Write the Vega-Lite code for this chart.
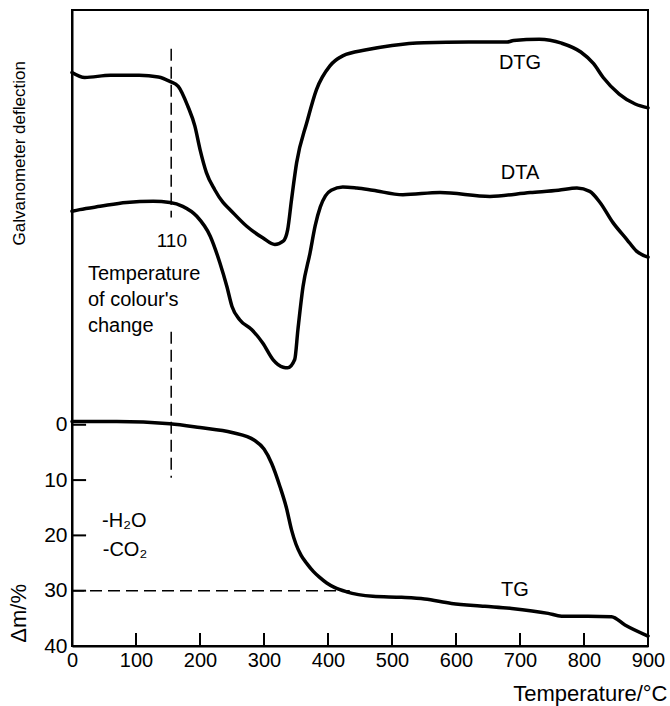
{
  "$schema": "https://vega.github.io/schema/vega-lite/v6.json",
  "width": 576,
  "height": 636,
  "autosize": {"type": "none"},
  "padding": {"left": 72, "top": 10, "right": 22, "bottom": 60},
  "background": "white",
  "config": {
    "view": {"stroke": "black", "strokeWidth": 2},
    "font": "Liberation Sans",
    "text": {"color": "black", "font": "Liberation Sans"}
  },
  "datasets": {
    "curves": [
      {"curve": "DTG", "temperature": 0, "value": -63.7},
      {"curve": "DTG", "temperature": 20, "value": -62.8},
      {"curve": "DTG", "temperature": 60, "value": -63.2},
      {"curve": "DTG", "temperature": 105, "value": -63.2},
      {"curve": "DTG", "temperature": 135, "value": -62.9},
      {"curve": "DTG", "temperature": 153, "value": -62.1},
      {"curve": "DTG", "temperature": 166, "value": -61.2},
      {"curve": "DTG", "temperature": 181, "value": -57.6},
      {"curve": "DTG", "temperature": 192, "value": -54.0},
      {"curve": "DTG", "temperature": 200, "value": -49.8},
      {"curve": "DTG", "temperature": 210, "value": -45.6},
      {"curve": "DTG", "temperature": 223, "value": -42.5},
      {"curve": "DTG", "temperature": 236, "value": -40.2},
      {"curve": "DTG", "temperature": 247, "value": -38.9},
      {"curve": "DTG", "temperature": 273, "value": -35.9},
      {"curve": "DTG", "temperature": 298, "value": -33.8},
      {"curve": "DTG", "temperature": 317, "value": -32.6},
      {"curve": "DTG", "temperature": 330, "value": -33.2},
      {"curve": "DTG", "temperature": 337, "value": -35.3},
      {"curve": "DTG", "temperature": 343, "value": -40.7},
      {"curve": "DTG", "temperature": 351, "value": -47.4},
      {"curve": "DTG", "temperature": 367, "value": -54.7},
      {"curve": "DTG", "temperature": 382, "value": -60.6},
      {"curve": "DTG", "temperature": 403, "value": -64.9},
      {"curve": "DTG", "temperature": 423, "value": -66.7},
      {"curve": "DTG", "temperature": 460, "value": -67.8},
      {"curve": "DTG", "temperature": 500, "value": -68.6},
      {"curve": "DTG", "temperature": 550, "value": -69.1},
      {"curve": "DTG", "temperature": 620, "value": -69.2},
      {"curve": "DTG", "temperature": 680, "value": -69.2},
      {"curve": "DTG", "temperature": 690, "value": -69.5},
      {"curve": "DTG", "temperature": 730, "value": -69.7},
      {"curve": "DTG", "temperature": 765, "value": -69.0},
      {"curve": "DTG", "temperature": 795, "value": -67.4},
      {"curve": "DTG", "temperature": 815, "value": -65.3},
      {"curve": "DTG", "temperature": 830, "value": -62.8},
      {"curve": "DTG", "temperature": 855, "value": -59.8},
      {"curve": "DTG", "temperature": 880, "value": -58.0},
      {"curve": "DTG", "temperature": 900, "value": -57.3},
      {"curve": "DTA", "temperature": 0, "value": -38.6},
      {"curve": "DTA", "temperature": 12, "value": -38.9},
      {"curve": "DTA", "temperature": 44, "value": -39.5},
      {"curve": "DTA", "temperature": 85, "value": -40.2},
      {"curve": "DTA", "temperature": 127, "value": -40.4},
      {"curve": "DTA", "temperature": 153, "value": -40.2},
      {"curve": "DTA", "temperature": 173, "value": -39.5},
      {"curve": "DTA", "temperature": 195, "value": -37.7},
      {"curve": "DTA", "temperature": 216, "value": -34.1},
      {"curve": "DTA", "temperature": 231, "value": -29.3},
      {"curve": "DTA", "temperature": 242, "value": -25.0},
      {"curve": "DTA", "temperature": 250, "value": -21.4},
      {"curve": "DTA", "temperature": 262, "value": -19.0},
      {"curve": "DTA", "temperature": 281, "value": -17.2},
      {"curve": "DTA", "temperature": 298, "value": -14.8},
      {"curve": "DTA", "temperature": 314, "value": -11.8},
      {"curve": "DTA", "temperature": 330, "value": -10.4},
      {"curve": "DTA", "temperature": 337, "value": -10.3},
      {"curve": "DTA", "temperature": 348, "value": -11.8},
      {"curve": "DTA", "temperature": 353, "value": -17.2},
      {"curve": "DTA", "temperature": 361, "value": -25.0},
      {"curve": "DTA", "temperature": 372, "value": -31.1},
      {"curve": "DTA", "temperature": 380, "value": -36.0},
      {"curve": "DTA", "temperature": 388, "value": -39.4},
      {"curve": "DTA", "temperature": 396, "value": -41.4},
      {"curve": "DTA", "temperature": 405, "value": -42.4},
      {"curve": "DTA", "temperature": 423, "value": -43.0},
      {"curve": "DTA", "temperature": 445, "value": -42.8},
      {"curve": "DTA", "temperature": 470, "value": -42.4},
      {"curve": "DTA", "temperature": 517, "value": -41.6},
      {"curve": "DTA", "temperature": 575, "value": -42.0},
      {"curve": "DTA", "temperature": 653, "value": -41.3},
      {"curve": "DTA", "temperature": 716, "value": -42.0},
      {"curve": "DTA", "temperature": 760, "value": -42.4},
      {"curve": "DTA", "temperature": 789, "value": -42.8},
      {"curve": "DTA", "temperature": 809, "value": -42.2},
      {"curve": "DTA", "temperature": 825, "value": -40.2},
      {"curve": "DTA", "temperature": 845, "value": -36.6},
      {"curve": "DTA", "temperature": 867, "value": -33.5},
      {"curve": "DTA", "temperature": 882, "value": -31.4},
      {"curve": "DTA", "temperature": 900, "value": -30.3},
      {"curve": "TG", "temperature": 0, "value": -0.6},
      {"curve": "TG", "temperature": 70, "value": -0.6},
      {"curve": "TG", "temperature": 153, "value": -0.2},
      {"curve": "TG", "temperature": 200, "value": 0.5},
      {"curve": "TG", "temperature": 250, "value": 1.4},
      {"curve": "TG", "temperature": 285, "value": 2.8},
      {"curve": "TG", "temperature": 300, "value": 4.4},
      {"curve": "TG", "temperature": 312, "value": 7.0},
      {"curve": "TG", "temperature": 325, "value": 11.2},
      {"curve": "TG", "temperature": 335, "value": 15.0},
      {"curve": "TG", "temperature": 343, "value": 19.0},
      {"curve": "TG", "temperature": 350, "value": 21.6},
      {"curve": "TG", "temperature": 358, "value": 23.6},
      {"curve": "TG", "temperature": 367, "value": 25.1},
      {"curve": "TG", "temperature": 377, "value": 26.5},
      {"curve": "TG", "temperature": 387, "value": 27.6},
      {"curve": "TG", "temperature": 398, "value": 28.6},
      {"curve": "TG", "temperature": 410, "value": 29.4},
      {"curve": "TG", "temperature": 429, "value": 30.2},
      {"curve": "TG", "temperature": 470, "value": 31.0},
      {"curve": "TG", "temperature": 515, "value": 31.2},
      {"curve": "TG", "temperature": 551, "value": 31.5},
      {"curve": "TG", "temperature": 593, "value": 32.3},
      {"curve": "TG", "temperature": 645, "value": 32.8},
      {"curve": "TG", "temperature": 687, "value": 33.2},
      {"curve": "TG", "temperature": 744, "value": 34.1},
      {"curve": "TG", "temperature": 765, "value": 34.6},
      {"curve": "TG", "temperature": 806, "value": 34.6},
      {"curve": "TG", "temperature": 843, "value": 34.7},
      {"curve": "TG", "temperature": 864, "value": 36.2},
      {"curve": "TG", "temperature": 900, "value": 38.2}
    ],
    "guides": [
      {"t_start": 0, "t_end": 434, "v_start": 30, "v_end": 30},
      {"t_start": 155, "t_end": 155, "v_start": -68, "v_end": -37.5},
      {"t_start": 155, "t_end": 155, "v_start": -16.8, "v_end": 9.6}
    ],
    "xticks": [
      {"temperature": 100}, {"temperature": 200}, {"temperature": 300}, {"temperature": 400},
      {"temperature": 500}, {"temperature": 600}, {"temperature": 700}, {"temperature": 800}
    ],
    "yticks": [
      {"value": 0}, {"value": 10}, {"value": 20}, {"value": 30}
    ],
    "notes": [
      {"group": "curve", "label": "DTG", "temperature": 700, "value": -65.5},
      {"group": "curve", "label": "DTA", "temperature": 700, "value": -45.6},
      {"group": "curve", "label": "TG", "temperature": 692, "value": 29.9},
      {"group": "mark", "label": "110", "temperature": 156, "value": -33.3},
      {"group": "block", "label": "Temperature\nof colour's\nchange", "temperature": 25, "value": -26.2},
      {"group": "gas", "label": "-H₂O", "temperature": 47, "value": 17.4},
      {"group": "gas", "label": "-CO₂", "temperature": 48, "value": 22.6},
      {"group": "galv", "label": "Galvanometer deflection", "temperature": -81, "value": -49.1},
      {"group": "dm", "label": "Δm/%", "temperature": -83, "value": 34.1}
    ]
  },
  "layer": [
    {
      "data": {"name": "curves"},
      "mark": {"type": "line", "interpolate": "monotone", "strokeWidth": 3.5, "color": "black", "strokeCap": "round"},
      "encoding": {
        "x": {"field": "temperature", "type": "quantitative", "scale": {"domain": [0, 900], "nice": false, "zero": false},
          "axis": {"values": [0, 100, 200, 300, 400, 500, 600, 700, 800, 900], "grid": false, "ticks": false,
            "title": "Temperature/°C", "titleFontSize": 22, "titleFontWeight": "normal", "titleColor": "black",
            "titleAlign": "right", "titleX": 595, "titleY": 54, "titleBaseline": "alphabetic",
            "labelFontSize": 20, "labelColor": "black", "labelPadding": 4, "labelFlush": false, "labelOverlap": false,
            "domainColor": "black", "domainWidth": 2}},
        "y": {"field": "value", "type": "quantitative", "scale": {"domain": [-75, 40], "reverse": true, "nice": false, "zero": false},
          "axis": {"values": [0, 10, 20, 30, 40], "grid": false, "title": null, "ticks": false,
            "labelFontSize": 21, "labelColor": "black", "labelPadding": 5, "labelFlush": false, "labelOverlap": false,
            "domainColor": "black", "domainWidth": 2}},
        "detail": {"field": "curve"}
      }
    },
    {
      "data": {"name": "xticks"},
      "mark": {"type": "rule", "color": "black", "strokeWidth": 2},
      "encoding": {
        "x": {"field": "temperature", "type": "quantitative"},
        "y": {"datum": 40},
        "y2": {"datum": 37.65}
      }
    },
    {
      "data": {"name": "yticks"},
      "mark": {"type": "rule", "color": "black", "strokeWidth": 2},
      "encoding": {
        "y": {"field": "value", "type": "quantitative"},
        "x": {"datum": 0},
        "x2": {"datum": 22}
      }
    },
    {
      "data": {"name": "guides"},
      "mark": {"type": "rule", "color": "black", "strokeWidth": 1.5, "strokeDash": [12, 6]},
      "encoding": {
        "x": {"field": "t_start", "type": "quantitative"},
        "x2": {"field": "t_end"},
        "y": {"field": "v_start", "type": "quantitative"},
        "y2": {"field": "v_end"}
      }
    },
    {
      "data": {"name": "notes"},
      "transform": [{"filter": "datum.group === 'curve'"}],
      "mark": {"type": "text", "fontSize": 20, "align": "center", "baseline": "middle"},
      "encoding": {"x": {"field": "temperature", "type": "quantitative"}, "y": {"field": "value", "type": "quantitative"}, "text": {"field": "label"}}
    },
    {
      "data": {"name": "notes"},
      "transform": [{"filter": "datum.group === 'mark'"}],
      "mark": {"type": "text", "fontSize": 19, "align": "center", "baseline": "middle"},
      "encoding": {"x": {"field": "temperature", "type": "quantitative"}, "y": {"field": "value", "type": "quantitative"}, "text": {"field": "label"}}
    },
    {
      "data": {"name": "notes"},
      "transform": [{"filter": "datum.group === 'block'"}],
      "mark": {"type": "text", "fontSize": 20, "align": "left", "baseline": "alphabetic", "lineBreak": "\n", "lineHeight": 26},
      "encoding": {"x": {"field": "temperature", "type": "quantitative"}, "y": {"field": "value", "type": "quantitative"}, "text": {"field": "label"}}
    },
    {
      "data": {"name": "notes"},
      "transform": [{"filter": "datum.group === 'gas'"}],
      "mark": {"type": "text", "fontSize": 20, "align": "left", "baseline": "middle"},
      "encoding": {"x": {"field": "temperature", "type": "quantitative"}, "y": {"field": "value", "type": "quantitative"}, "text": {"field": "label"}}
    },
    {
      "data": {"name": "notes"},
      "transform": [{"filter": "datum.group === 'galv'"}],
      "mark": {"type": "text", "fontSize": 17, "align": "center", "baseline": "middle", "angle": 270},
      "encoding": {"x": {"field": "temperature", "type": "quantitative"}, "y": {"field": "value", "type": "quantitative"}, "text": {"field": "label"}}
    },
    {
      "data": {"name": "notes"},
      "transform": [{"filter": "datum.group === 'dm'"}],
      "mark": {"type": "text", "fontSize": 22, "align": "center", "baseline": "middle", "angle": 270},
      "encoding": {"x": {"field": "temperature", "type": "quantitative"}, "y": {"field": "value", "type": "quantitative"}, "text": {"field": "label"}}
    }
  ]
}
